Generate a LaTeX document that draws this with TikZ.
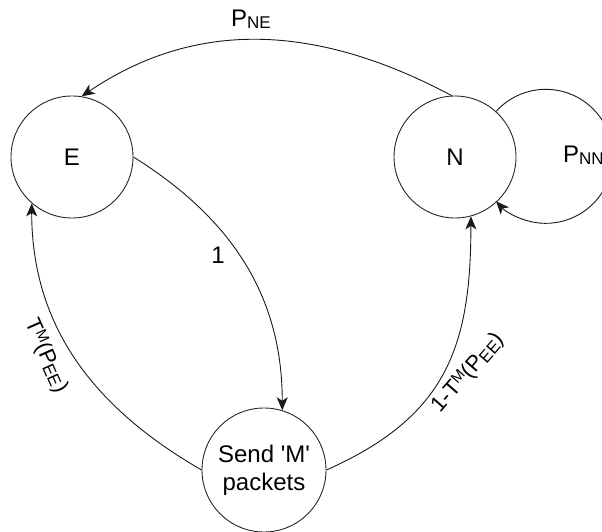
\documentclass[tikz,border=0pt]{standalone}
\usepackage{fontspec}
\setmainfont{Liberation Sans}
\usetikzlibrary{arrows.meta}
\newcommand{\lsub}[1]{\raisebox{-2.5pt}{\fontsize{17}{17}\selectfont #1}}
\newcommand{\lsup}[1]{\raisebox{6pt}{\fontsize{15}{15}\selectfont #1}}
\begin{document}
\begin{tikzpicture}[x=1pt,y=1pt,
  statenode/.style={circle, draw=black!85, line width=0.9pt, minimum size=122pt, inner sep=0pt, font=\fontsize{24}{28}\selectfont},
  edgeline/.style={draw=black!90, line width=0.9pt, -{Stealth[length=13pt,width=11pt,inset=3.5pt]}},
  lbl/.style={font=\fontsize{24}{28}\selectfont, inner sep=0pt},
  rlbl/.style={font=\fontsize{22}{26}\selectfont, inner sep=0pt}]
\useasboundingbox (0,0) rectangle (602,531);
\node[statenode] (E) at (72,374) {E};
\node[statenode] (N) at (455,374) {N};
\node[statenode, minimum size=124pt, align=center] (S) at (264,61) {Send \textquotesingle M\textquotesingle\\packets};

\draw[edgeline] (N.93) to[out=152,in=34] (E.81);
\draw[edgeline] (N.48) arc[start angle=137.8, end angle=-137.8, radius=67];
\draw[edgeline] (E.0) to[out=-32,in=90] (S.73);
\draw[edgeline] (S.180) to[out=150,in=-90] (E.229);
\draw[edgeline] (S.0) to[out=24,in=-90,looseness=1.15] (N.-75);

\node[lbl] (pne) at (251,512) {P\lsub{NE}};
\node[lbl, anchor=west] (pnn) at (563,376) {P\lsub{NN}};
\node[lbl] (one) at (218,276) {1};
\node[rlbl, rotate=-66] (l1) at (46,175) {T\lsup{M}(P\lsub{EE})};
\node[rlbl, rotate=49] (l2) at (468,158) {1-T\lsup{M}(P\lsub{EE})};
\end{tikzpicture}
\end{document}
